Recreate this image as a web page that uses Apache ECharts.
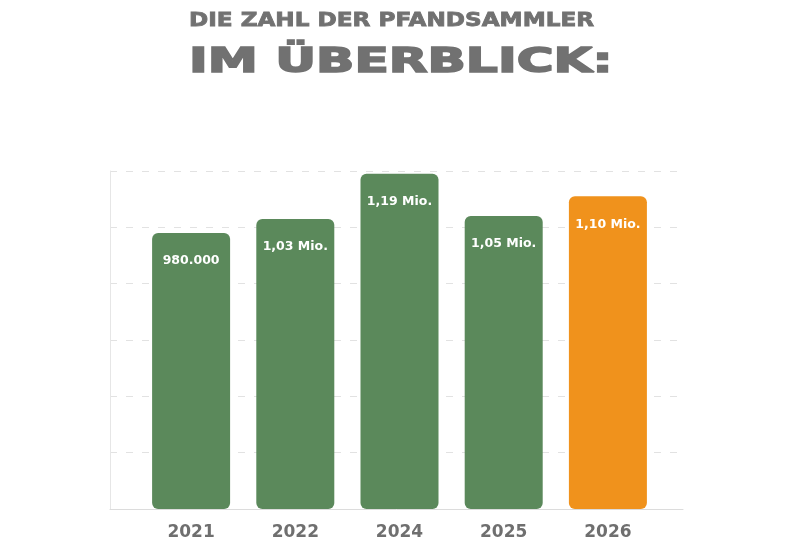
<!DOCTYPE html>
<html>
<head>
<meta charset="utf-8">
<script src="https://cdn.jsdelivr.net/npm/echarts@6/dist/echarts.min.js"></script>
<style>html,body{margin:0;padding:0;background:#fff}#c{width:800px;height:541px}</style>
</head>
<body>
<div id="c"></div>
<script>
// ---- data ----
var categories = ['2021', '2022', '2024', '2025', '2026'];
var values = [980000, 1030000, 1190000, 1040000, 1110000];
var valueLabels = ['980.000', '1,03 Mio.', '1,19 Mio.', '1,05 Mio.', '1,10 Mio.'];
var barColors = ['#5b895b', '#5b895b', '#5b895b', '#5b895b', '#f0921c'];
var titleLine1 = 'DIE ZAHL DER PFANDSAMMLER';
var titleLine2 = 'IM ÜBERBLICK:';
var yMax = 1200000, yInterval = 200000;

// ---- helpers ----
var FONT = '"DejaVu Sans", "Noto Sans", sans-serif';
function measure(text, size) {
  var ctx = document.createElement('canvas').getContext('2d');
  ctx.font = 'bold ' + size + 'px ' + FONT;
  return ctx.measureText(text).width;
}
function titleText(text, x, y, size, targetWidth, strokeW) {
  var w = measure(text, size) + strokeW;
  return {
    type: 'text', x: x, y: y, scaleX: targetWidth / w, scaleY: 1,
    style: { text: text, fontSize: size, fontWeight: 'bold', fontFamily: FONT,
             fill: '#717171', stroke: '#717171', lineWidth: strokeW,
             align: 'left', verticalAlign: 'middle' }
  };
}

var chart = echarts.init(document.getElementById('c'), null, { renderer: 'canvas' });
var gridTop = 171, gridBottom = 32;
chart.setOption({
  animation: false,
  backgroundColor: '#ffffff',
  graphic: [
    titleText(titleLine1, 189, 21, 19, 406, 0.8),
    titleText(titleLine2, 189, 63, 34, 426, 1.6)
  ],
  grid: [
    { left: 110, right: 117, top: gridTop, bottom: gridBottom },
    { left: 139, right: 140, top: gridTop, bottom: gridBottom }
  ],
  xAxis: [
    { gridIndex: 0, type: 'value', min: 0, max: 1,
      axisLine: { show: true, lineStyle: { color: '#dcdcdc', width: 1 } },
      axisTick: { show: false }, axisLabel: { show: false }, splitLine: { show: false } },
    { gridIndex: 1, type: 'category', data: categories,
      axisLine: { show: false }, axisTick: { show: false },
      axisLabel: { margin: 15, color: '#6f6f6f', fontSize: 17, fontWeight: 'bold', fontFamily: FONT } }
  ],
  yAxis: [
    { gridIndex: 0, type: 'value', min: 0, max: yMax, interval: yInterval,
      axisLine: { show: true, lineStyle: { color: '#e6e6e6', width: 1 } },
      axisTick: { show: false }, axisLabel: { show: false },
      splitLine: { show: true, lineStyle: { color: '#e2e2e2', type: [7, 9], width: 1 } } },
    { gridIndex: 1, type: 'value', min: 0, max: yMax, interval: yInterval, show: false,
      splitLine: { show: false } }
  ],
  series: [{
    type: 'bar', xAxisIndex: 1, yAxisIndex: 1, barWidth: 78,
    data: values.map(function (v, i) {
      return { value: v, itemStyle: { color: barColors[i], borderRadius: 6 } };
    }),
    label: {
      show: true, position: ['50%', 28], align: 'center', verticalAlign: 'middle',
      color: '#ffffff', fontSize: 12.5, fontWeight: 'bold', fontFamily: FONT,
      formatter: function (p) { return valueLabels[p.dataIndex]; }
    }
  }]
});
</script>
</body>
</html>
